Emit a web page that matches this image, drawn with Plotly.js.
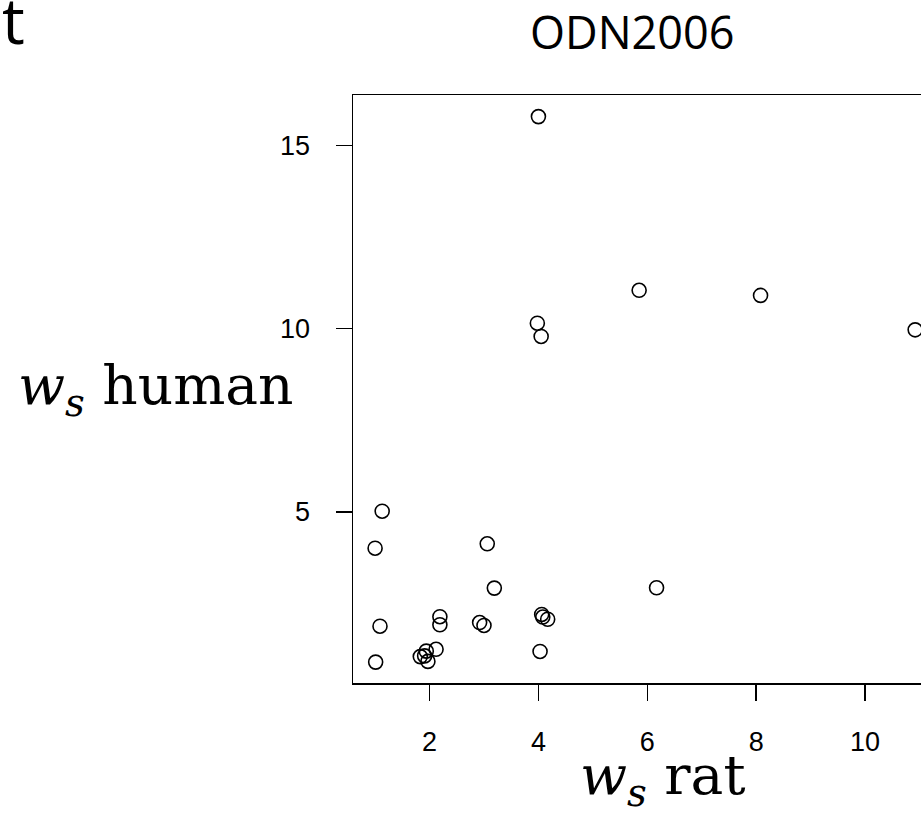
<!DOCTYPE html>
<html>
<head>
<meta charset="utf-8">
<script src="https://cdn.plot.ly/plotly-3.0.1.min.js"></script>
<style>
  html, body { margin: 0; padding: 0; overflow: hidden; background: #fff; }
  #chart { width: 1000px; height: 816px; }
</style>
</head>
<body>
<div id="chart"></div>
<script>
// Weight parameter w_s: rat vs human, ODN2006 set
const ratWs = [4.00, 5.85, 8.08, 10.92, 3.98, 4.05, 1.13, 1.00, 3.06, 3.19, 6.17, 1.09, 2.19, 2.19,
               2.92, 3.00, 4.06, 4.08, 4.17, 4.03, 1.01, 1.83, 1.91, 1.94, 1.97, 2.12];
const humanWs = [15.79, 11.05, 10.91, 9.97, 10.15, 9.79, 5.02, 4.01, 4.13, 2.92, 2.93, 1.88, 2.14, 1.92,
                 1.98, 1.90, 2.20, 2.13, 2.07, 1.19, 0.90, 1.05, 1.07, 1.20, 0.92, 1.25];
const xTicks = [2, 4, 6, 8, 10];
const yTicks = [5, 10, 15];
const panelTitle = "ODN2006";

const trace = {
  x: ratWs,
  y: humanWs,
  mode: "markers",
  type: "scatter",
  marker: { symbol: "circle-open", size: 14, color: "#000", line: { width: 1.6, color: "#000" } },
  hoverinfo: "x+y"
};

const axisCommon = {
  showline: true, mirror: true, linecolor: "#000", linewidth: 1.5,
  ticks: "outside", ticklen: 16, tickwidth: 1.5, tickcolor: "#000",
  showgrid: false, zeroline: false,
  tickfont: { family: "Liberation Sans, Arial, sans-serif", size: 27, color: "#000" }
};

const mathFont = { family: "DejaVu Serif, serif", size: 55, color: "#000" };

const layout = {
  width: 1000, height: 816,
  margin: { l: 353, r: 50, t: 95, b: 133 },
  paper_bgcolor: "#fff", plot_bgcolor: "#fff",
  showlegend: false,
  xaxis: Object.assign({}, axisCommon, {
    range: [0.594, 11.56], tickvals: xTicks, ticktext: xTicks.map(String),
    ticklabelstandoff: 18
  }),
  yaxis: Object.assign({}, axisCommon, {
    range: [0.33, 16.38], tickvals: yTicks, ticktext: yTicks.map(String),
    ticklabelstandoff: 20
  }),
  annotations: [
    {
      text: panelTitle, xref: "paper", yref: "paper", x: 0.467, y: 1, yshift: 64,
      xanchor: "center", yanchor: "middle", showarrow: false,
      font: { family: "Open Sans, sans-serif", size: 45, color: "#000" }
    },
    {
      text: "t", xref: "paper", yref: "paper", x: -0.591, y: 1, yshift: 76,
      xanchor: "left", yanchor: "middle", showarrow: false,
      font: { family: "Open Sans, sans-serif", size: 64, color: "#000" }
    },
    {
      text: "<i>w</i><sub><i>s</i></sub> human", xref: "paper", yref: "paper", x: -0.591, y: 0.5, xshift: 16,
      xanchor: "left", yanchor: "middle", showarrow: false,
      font: mathFont
    },
    {
      text: "<i>w</i><sub><i>s</i></sub> rat", xref: "paper", yref: "paper", x: 0.52, y: 0, yshift: -96,
      xanchor: "center", yanchor: "middle", showarrow: false,
      font: mathFont
    }
  ]
};

Plotly.newPlot("chart", [trace], layout, { displayModeBar: false, staticPlot: true });
</script>
</body>
</html>
